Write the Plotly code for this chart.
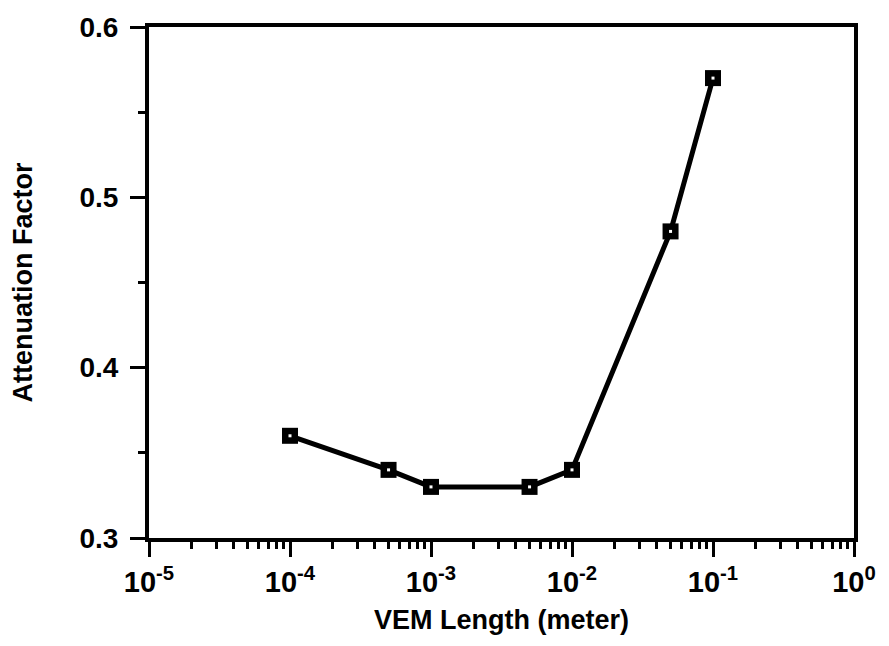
import plotly.graph_objects as go

vem_length = [1e-4, 5e-4, 1e-3, 5e-3, 1e-2, 5e-2, 1e-1]
attenuation = [0.36, 0.34, 0.33, 0.33, 0.34, 0.48, 0.57]

x_tickvals = [1e-5, 1e-4, 1e-3, 1e-2, 1e-1, 1e0]
x_exponents = ["-5", "-4", "-3", "-2", "-1", "0"]
x_ticktext = ["10<sup>%s</sup>" % e for e in x_exponents]
y_tickvals = [0.3, 0.4, 0.5, 0.6]
y_ticktext = ["0.3", "0.4", "0.5", "0.6"]

fig = go.Figure()
fig.add_trace(go.Scatter(
    x=vem_length, y=attenuation, mode="lines+markers",
    line=dict(color="black", width=5),
    marker=dict(symbol="square", size=16, color="black"),
    showlegend=False,
))
fig.add_trace(go.Scatter(
    x=vem_length, y=attenuation, mode="markers",
    marker=dict(symbol="square", size=3, color="white"),
    showlegend=False,
))

font_family = "Liberation Sans, Arial, sans-serif"
fig.update_layout(
    width=889, height=646,
    margin=dict(l=141, r=43, t=19, b=116),
    paper_bgcolor="white", plot_bgcolor="white",
    font=dict(family=font_family, color="black"),
)
fig.update_xaxes(
    type="log", range=[-5, 0], automargin=False,
    tickvals=x_tickvals, ticktext=x_ticktext,
    tickfont=dict(size=29, family=font_family, color="black", weight="bold"),
    ticks="outside", ticklen=15, tickwidth=3, tickcolor="black",
    minor=dict(ticks="outside", ticklen=7, tickwidth=3, tickcolor="black",
               dtick="D1", showgrid=False),
    showline=True, linewidth=4, linecolor="black", mirror=True,
    showgrid=False, zeroline=False,
    title=dict(text="VEM Length (meter)",
               font=dict(size=27, family=font_family, weight="bold"),
               standoff=14),
)
fig.update_yaxes(
    range=[0.3, 0.6], automargin=False,
    tickvals=y_tickvals, ticktext=y_ticktext,
    tickfont=dict(size=28, family=font_family, color="black", weight="bold"),
    ticks="outside", ticklen=15, tickwidth=3, tickcolor="black",
    ticklabelstandoff=6,
    minor=dict(ticks="outside", ticklen=7, tickwidth=3, tickcolor="black",
               dtick=0.05, showgrid=False),
    showline=True, linewidth=4, linecolor="black", mirror=True,
    showgrid=False, zeroline=False,
    title=dict(text="Attenuation Factor",
               font=dict(size=27, family=font_family, weight="bold"),
               standoff=44),
)

fig.write_html("out.html")
